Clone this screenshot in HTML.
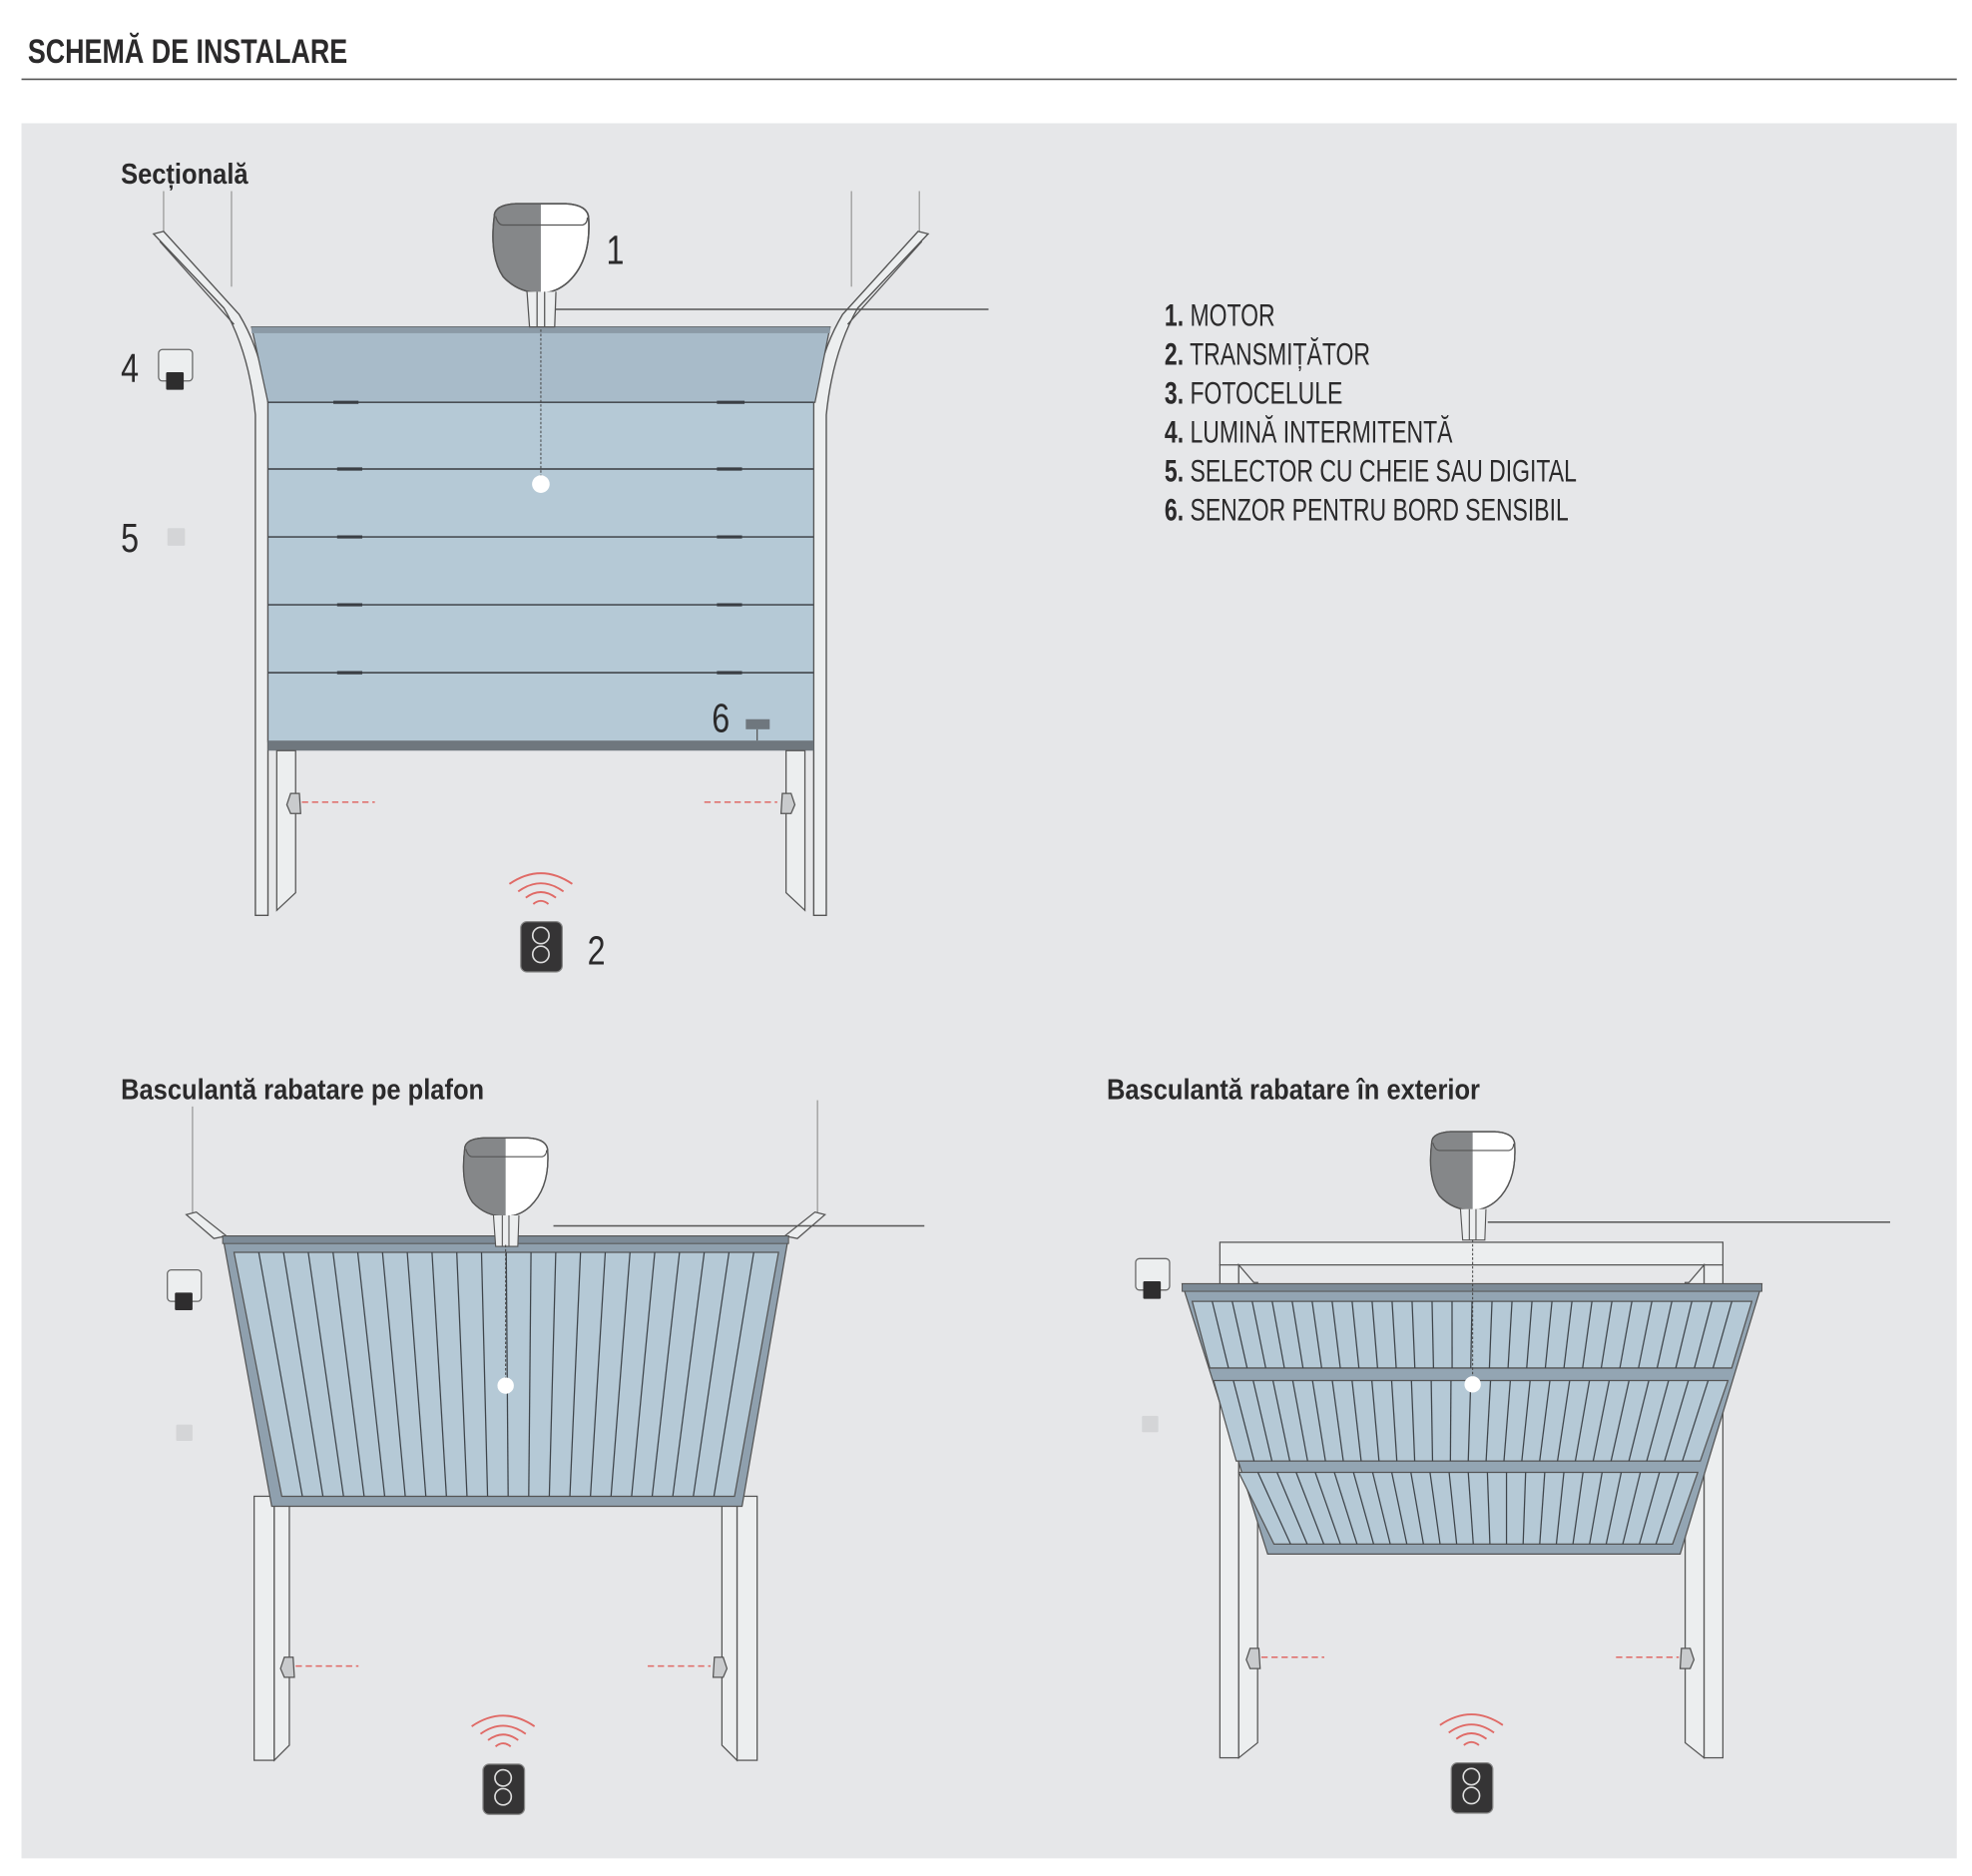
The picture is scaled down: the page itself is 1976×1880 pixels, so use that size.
<!DOCTYPE html>
<html><head><meta charset="utf-8"><style>
html,body{margin:0;padding:0;background:#fff;}
svg{display:block;}
text{font-family:"Liberation Sans Narrow","Liberation Sans",sans-serif;}
</style></head><body>
<svg id="s" width="1976" height="1880" viewBox="0 0 1568 1492" xmlns="http://www.w3.org/2000/svg">
<defs>
<g id="motor">
 <path d="M-37,10 Q-37,1 -20,0 L20,0 Q38,1 38,12 Q40,45 22,62 Q12,71 0,71 Q-18,71 -30,58 Q-41,42 -37,10Z" fill="#fff" stroke="#555" stroke-width="1.2"/>
 <path d="M-37,10 Q-37,1 -20,0 L0,0 L0,71 Q-18,71 -30,58 Q-41,42 -37,10Z" fill="#858789"/>
 <path d="M-37,10 Q-37,1 -20,0 L20,0 Q38,1 38,12 Q40,45 22,62 Q12,71 0,71 Q-18,71 -30,58 Q-41,42 -37,10Z" fill="none" stroke="#555" stroke-width="1.2"/>
 <path d="M-36,10 Q-34,17 -30,17 L33,17 Q37,16 37,11" fill="none" stroke="#555" stroke-width="1"/>
 <path d="M-11,70 L-9,98 L11,98 L12,70" fill="#eceeef" stroke="#555" stroke-width="1"/>
 <line x1="-3" y1="70" x2="-3" y2="98" stroke="#555"/><line x1="3" y1="70" x2="3" y2="98" stroke="#555"/>
</g>
<g id="remote">
 <path d="M-6,-17 Q0,-22 6,-17" fill="none" stroke="#e06a66" stroke-width="1.5"/>
 <path d="M-12,-22 Q0,-31 12,-22" fill="none" stroke="#e06a66" stroke-width="1.5"/>
 <path d="M-18,-27 Q0,-40 18,-27" fill="none" stroke="#e06a66" stroke-width="1.5"/>
 <path d="M-25,-33 Q0,-50 25,-33" fill="none" stroke="#e06a66" stroke-width="1.5"/>
 <rect x="-16" y="-3" width="33" height="40" rx="5" fill="#353435" stroke="#888" stroke-width="1"/>
 <circle cx="0" cy="8" r="6.5" fill="none" stroke="#ddd" stroke-width="1.3"/>
 <circle cx="0" cy="23" r="6.5" fill="none" stroke="#ddd" stroke-width="1.3"/>
</g>
<g id="light">
 <rect x="0" y="0" width="27" height="25" rx="3" fill="#eceeef" stroke="#666" stroke-width="1"/>
 <rect x="6" y="18" width="14" height="14" rx="1" fill="#2e2d2e"/>
</g>
<g id="pcL"><path d="M0,-9 L7,-9 L8,7 L0,7 L-3,0 Z" fill="#c9cbcd" stroke="#555" stroke-width="1"/></g>
<g id="pcR"><path d="M0,-9 L-7,-9 L-8,7 L0,7 L3,0 Z" fill="#c9cbcd" stroke="#555" stroke-width="1"/></g>
</defs>

<rect width="1568" height="1492" fill="#fff"/>
<text x="22" y="50" font-size="27" font-weight="bold" fill="#2b2a2b" transform="translate(22,0) scale(0.79,1) translate(-22,0)">SCHEMĂ DE INSTALARE</text>
<line x1="17" y1="63" x2="1556" y2="63" stroke="#555" stroke-width="1.3"/>
<rect x="17" y="98" width="1539" height="1380" fill="#e6e7e9"/>

<!-- ===== SECTIONAL ===== -->
<text x="96" y="146" font-size="23" font-weight="bold" fill="#2b2a2b" transform="translate(96,0) scale(0.88,1) translate(-96,0)">Secțională</text>
<g stroke="#999" stroke-width="1" fill="none">
 <line x1="130" y1="152" x2="130" y2="186"/><line x1="184" y1="152" x2="184" y2="228"/>
 <line x1="677" y1="152" x2="677" y2="228"/><line x1="731" y1="152" x2="731" y2="186"/>
</g>
<path d="M122,186 L130,184 L190,250 Q208,280 213,320 L213,728 L203,728 L203,330 Q198,280 178,245 Z" fill="#eceeef" stroke="#555" stroke-width="1.1"/>
<path d="M738,186 L730,184 L670,250 Q652,280 647,320 L647,728 L657,728 L657,330 Q662,280 682,245 Z" fill="#eceeef" stroke="#555" stroke-width="1.1"/>
<path d="M127,192 L186,258" stroke="#555" fill="none"/><path d="M733,192 L674,258" stroke="#555" fill="none"/>
<path d="M200,260 L660,260 L648,320 L213,320 Z" fill="#a8bbc9" stroke="#555" stroke-width="1"/>
<rect x="200" y="260" width="460" height="5" fill="#8b9aa6"/>
<rect x="213" y="320" width="434" height="270" fill="#b5c9d6" stroke="#555" stroke-width="1"/>
<g stroke="#4a4f55" stroke-width="1.3">
 <line x1="213" y1="320" x2="647" y2="320"/><line x1="213" y1="373" x2="647" y2="373"/>
 <line x1="213" y1="427" x2="647" y2="427"/><line x1="213" y1="481" x2="647" y2="481"/>
 <line x1="213" y1="535" x2="647" y2="535"/>
</g>
<g stroke="#3a3e44" stroke-width="2.5">
 <line x1="265" y1="320" x2="285" y2="320"/><line x1="570" y1="320" x2="592" y2="320"/>
 <line x1="268" y1="373" x2="288" y2="373"/><line x1="570" y1="373" x2="590" y2="373"/>
 <line x1="268" y1="427" x2="288" y2="427"/><line x1="570" y1="427" x2="590" y2="427"/>
 <line x1="268" y1="481" x2="288" y2="481"/><line x1="570" y1="481" x2="590" y2="481"/>
 <line x1="268" y1="535" x2="288" y2="535"/><line x1="570" y1="535" x2="590" y2="535"/>
</g>
<rect x="213" y="589" width="434" height="8" fill="#6f777e"/>
<path d="M220,597 L235,597 L235,710 L220,724 Z" fill="#eceeef" stroke="#555"/>
<path d="M640,597 L625,597 L625,710 L640,724 Z" fill="#eceeef" stroke="#555"/>
<use href="#pcL" x="231" y="640"/><use href="#pcR" x="629" y="640"/>
<line x1="240" y1="638" x2="298" y2="638" stroke="#e06a66" stroke-width="1.2" stroke-dasharray="5,3"/>
<line x1="560" y1="638" x2="618" y2="638" stroke="#e06a66" stroke-width="1.2" stroke-dasharray="5,3"/>
<line x1="440" y1="246" x2="786" y2="246" stroke="#555" stroke-width="1.2"/>
<use href="#motor" x="430" y="162"/>
<line x1="430" y1="262" x2="430" y2="380" stroke="#444" stroke-width="0.8" stroke-dasharray="2,1.5"/>
<circle cx="430" cy="385" r="7" fill="#fff"/>
<g fill="#2b2a2b" font-size="32">
<text x="482" y="210" transform="translate(482,0) scale(0.8,1) translate(-482,0)">1</text>
<text x="96" y="304" transform="translate(96,0) scale(0.8,1) translate(-96,0)">4</text>
<text x="96" y="439" transform="translate(96,0) scale(0.8,1) translate(-96,0)">5</text>
<text x="566" y="582" transform="translate(566,0) scale(0.8,1) translate(-566,0)">6</text>
<text x="467" y="767" transform="translate(467,0) scale(0.8,1) translate(-467,0)">2</text>
</g>
<use href="#light" x="126" y="278"/>
<rect x="133" y="420" width="14" height="14" rx="1" fill="#d4d5d7"/>
<rect x="593" y="572" width="19" height="8" fill="#6f777e"/>
<line x1="602" y1="580" x2="602" y2="589" stroke="#555"/>
<use href="#remote" x="430" y="736"/>

<!-- legend -->
<g font-size="25" fill="#2b2a2b" transform="translate(926,0) scale(0.73,1) translate(-926,0)">
<text x="926" y="259"><tspan font-weight="bold">1.</tspan> MOTOR</text>
<text x="926" y="290"><tspan font-weight="bold">2.</tspan> TRANSMIȚĂTOR</text>
<text x="926" y="321"><tspan font-weight="bold">3.</tspan> FOTOCELULE</text>
<text x="926" y="352"><tspan font-weight="bold">4.</tspan> LUMINĂ INTERMITENTĂ</text>
<text x="926" y="383"><tspan font-weight="bold">5.</tspan> SELECTOR CU CHEIE SAU DIGITAL</text>
<text x="926" y="414"><tspan font-weight="bold">6.</tspan> SENZOR PENTRU BORD SENSIBIL</text>
</g>

<!-- ===== BASCULANTA PLAFON ===== -->
<text x="96" y="874" font-size="23" font-weight="bold" fill="#2b2a2b" transform="translate(96,0) scale(0.88,1) translate(-96,0)">Basculantă rabatare pe plafon</text>
<g stroke="#999" fill="none"><line x1="153" y1="880" x2="153" y2="966"/><line x1="650" y1="875" x2="650" y2="966"/></g>
<path d="M148,966 L156,964 L180,983 L170,985 Z" fill="#eceeef" stroke="#555"/>
<path d="M656,966 L648,964 L624,983 L634,985 Z" fill="#eceeef" stroke="#555"/>
<line x1="440" y1="975" x2="735" y2="975" stroke="#555" stroke-width="1.2"/>
<rect x="202" y="1190" width="16" height="210" fill="#eceeef" stroke="#555"/>
<path d="M218,1190 L230,1190 L230,1388 L218,1400Z" fill="#eceeef" stroke="#555"/>
<rect x="586" y="1190" width="16" height="210" fill="#eceeef" stroke="#555"/>
<path d="M586,1190 L574,1190 L574,1388 L586,1400Z" fill="#eceeef" stroke="#555"/>
<path d="M177,983 L627,983 L590,1198 L216,1198 Z" fill="#8fa0ae" stroke="#555"/>
<rect x="177" y="983" width="450" height="6" fill="#7d8b97" stroke="#555" stroke-width="0.8"/>
<path d="M186,996 L619,996 L584,1190 L224,1190 Z" fill="#b5c9d6" stroke="#555"/>
<g id="slats1" stroke="#3e444a" stroke-width="1"></g>
<use href="#pcL" x="226" y="1327"/><use href="#pcR" x="575" y="1327"/>
<line x1="235" y1="1325" x2="285" y2="1325" stroke="#e06a66" stroke-width="1.2" stroke-dasharray="5,3"/>
<line x1="515" y1="1325" x2="565" y2="1325" stroke="#e06a66" stroke-width="1.2" stroke-dasharray="5,3"/>
<g transform="translate(402,905) scale(0.88)"><use href="#motor"/></g>
<line x1="402" y1="990" x2="402" y2="1097" stroke="#444" stroke-width="0.8" stroke-dasharray="2,1.5"/>
<circle cx="402" cy="1102" r="6.5" fill="#fff"/>
<use href="#light" x="133" y="1010"/>
<rect x="140" y="1133" width="13" height="13" rx="1" fill="#d4d5d7"/>
<use href="#remote" x="400" y="1406"/>

<!-- ===== BASCULANTA EXTERIOR ===== -->
<text x="880" y="874" font-size="23" font-weight="bold" fill="#2b2a2b" transform="translate(880,0) scale(0.88,1) translate(-880,0)">Basculantă rabatare în exterior</text>
<line x1="1183" y1="972" x2="1503" y2="972" stroke="#555" stroke-width="1.2"/>
<rect x="970" y="988" width="400" height="18" fill="#eceeef" stroke="#555"/>
<rect x="970" y="1006" width="15" height="392" fill="#eceeef" stroke="#555"/>
<path d="M985,1006 L997,1020 L1000,1020 L1000,1386 L985,1398Z" fill="#eceeef" stroke="#555"/>
<rect x="1355" y="1006" width="15" height="392" fill="#eceeef" stroke="#555"/>
<path d="M1355,1006 L1343,1020 L1340,1020 L1340,1386 L1355,1398Z" fill="#eceeef" stroke="#555"/>
<path d="M940,1021 L1401,1021 L1336,1236 L1008,1236 Z" fill="#93a5b3" stroke="#555"/>
<rect x="940" y="1021" width="461" height="6" fill="#7d8b97" stroke="#555" stroke-width="0.8"/>
<path d="M948,1035 L1393,1035 L1377,1088 L962,1088 Z" fill="#b5c9d6" stroke="#555"/>
<path d="M965,1098 L1374,1098 L1352,1162 L983,1162 Z" fill="#b5c9d6" stroke="#555"/>
<path d="M985,1171 L1350,1171 L1330,1228 L1013,1228 Z" fill="#b5c9d6" stroke="#555"/>
<g id="slats2" stroke="#3e444a" stroke-width="1"></g>
<use href="#pcL" x="994" y="1320"/><use href="#pcR" x="1344" y="1320"/>
<line x1="1003" y1="1318" x2="1053" y2="1318" stroke="#e06a66" stroke-width="1.2" stroke-dasharray="5,3"/>
<line x1="1285" y1="1318" x2="1335" y2="1318" stroke="#e06a66" stroke-width="1.2" stroke-dasharray="5,3"/>
<g transform="translate(1171,900) scale(0.88)"><use href="#motor"/></g>
<line x1="1171" y1="986" x2="1171" y2="1096" stroke="#444" stroke-width="0.8" stroke-dasharray="2,1.5"/>
<circle cx="1171" cy="1101" r="6.5" fill="#fff"/>
<use href="#light" x="903" y="1001"/>
<rect x="908" y="1126" width="13" height="13" rx="1" fill="#d4d5d7"/>
<use href="#remote" x="1170" y="1405"/>
</svg>
<script>
(function(){
var ns="http://www.w3.org/2000/svg";
function slats(g,y1,y2,xa,xb,xc,xd,n){
 for(var i=1;i<n;i++){var t=i/n;var l=document.createElementNS(ns,"line");
 l.setAttribute("x1",xa+(xb-xa)*t);l.setAttribute("y1",y1);
 l.setAttribute("x2",xc+(xd-xc)*t);l.setAttribute("y2",y2);g.appendChild(l);}
}
slats(document.getElementById("slats1"),996,1190,186,619,224,584,22);
var g2=document.getElementById("slats2");
slats(g2,1035,1088,948,1393,962,1377,28);
slats(g2,1098,1162,965,1374,983,1352,26);
slats(g2,1171,1228,985,1350,1013,1330,24);
})();
</script>
</body></html>
